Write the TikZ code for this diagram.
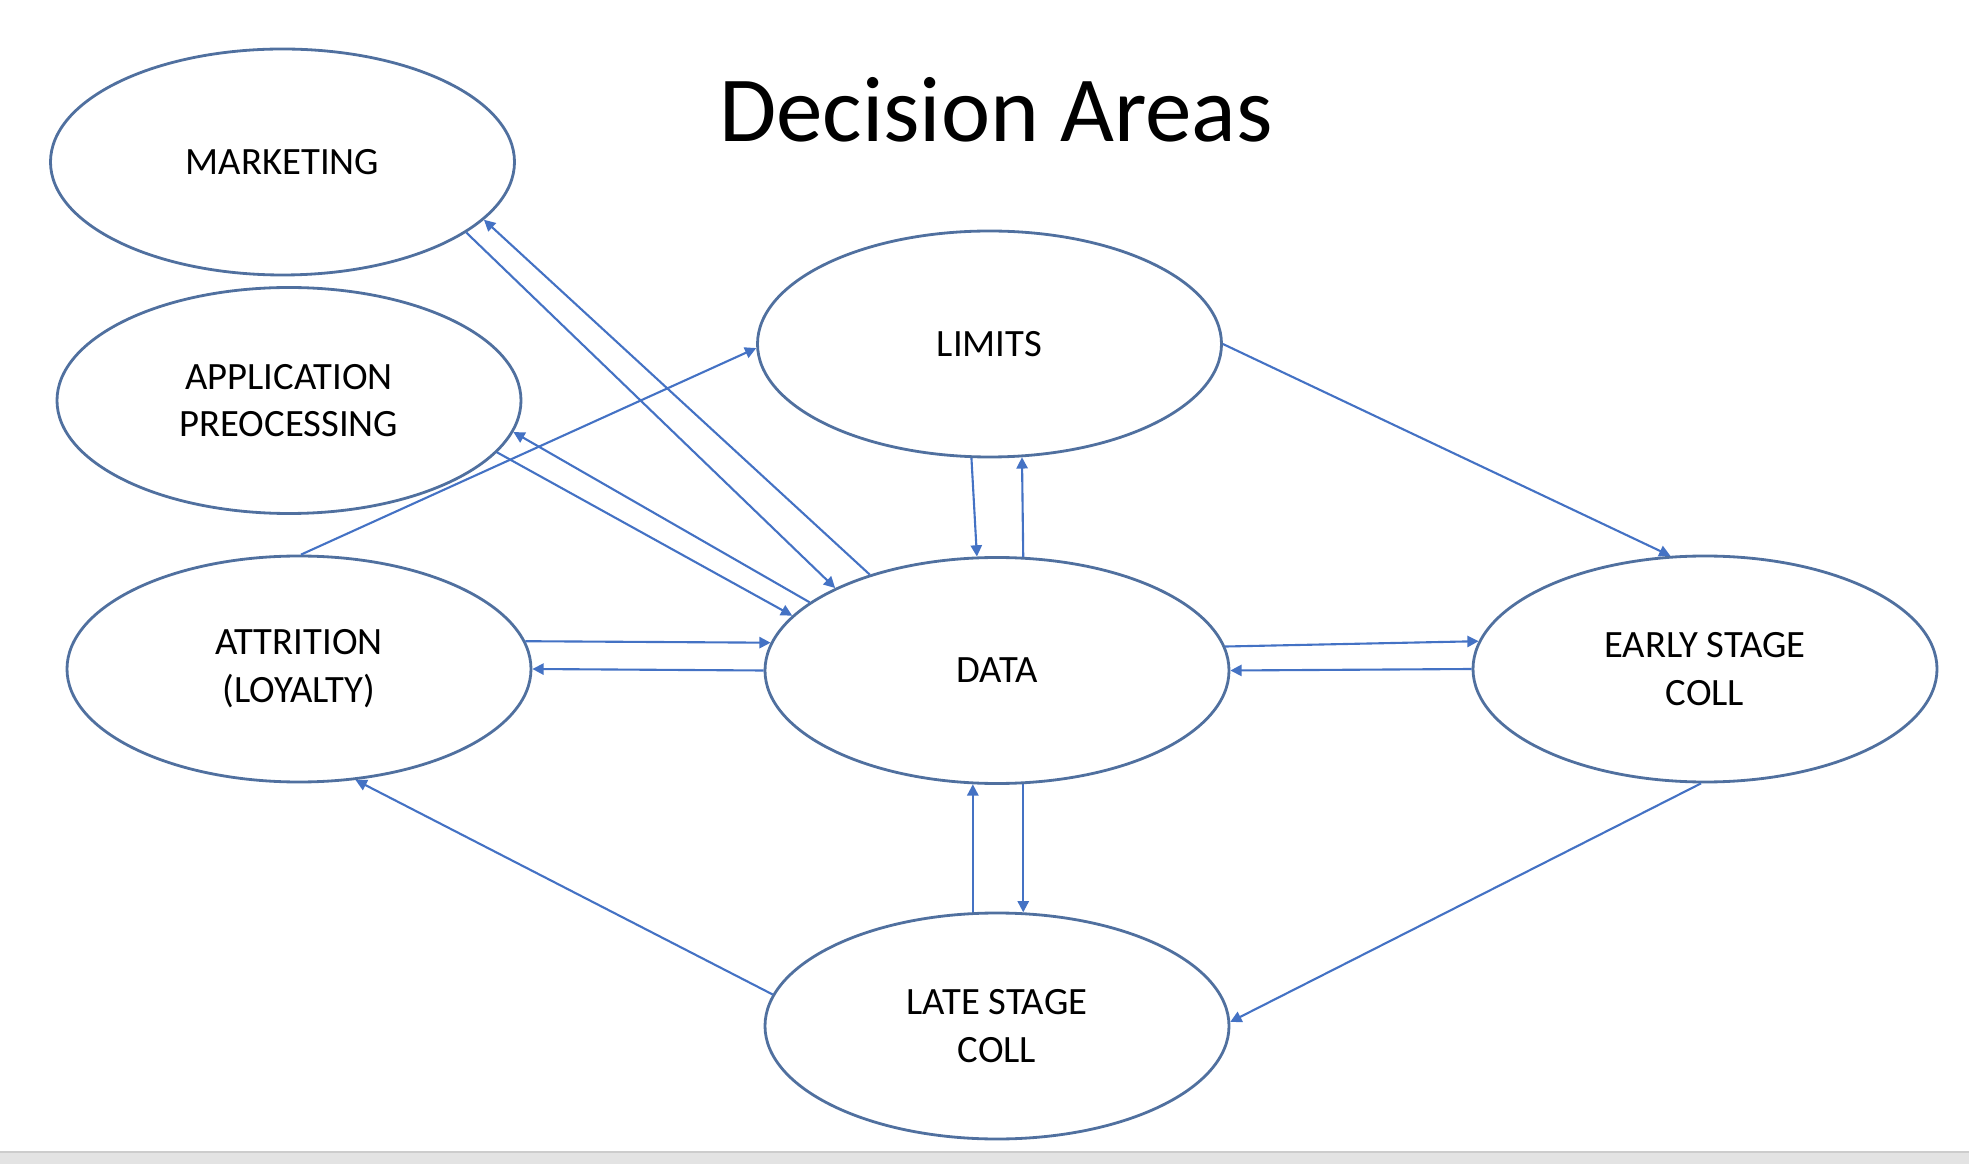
\documentclass[tikz,border=0pt]{standalone}
\usepackage{fontspec}
\setmainfont{Carlito}
\usetikzlibrary{shapes.geometric,arrows.meta}
\definecolor{ovalline}{HTML}{50709F}
\definecolor{arrowline}{HTML}{4472C4}
\begin{document}
\begin{tikzpicture} [area/.style={ellipse, draw=ovalline, line width=0.8pt, minimum width=4.64cm, minimum height=2.26cm, inner sep=0pt, align=center, font=\fontsize{11}{13.6}\selectfont}, link/.style={draw=arrowline, line width=0.6pt, -{Triangle[width=3.2pt,length=3.2pt]}}]
	\useasboundingbox (0,0) rectangle (19.69,-11.64);
	\fill [black!11] (0,-11.52) rectangle (19.69,-11.64);
	\draw [black!20, line width=0.6pt] (0,-11.52) -- (19.69,-11.52);

	\node [area] (marketing) at (2.825,-1.62) {MARKETING};
	\node [area] (application) at (2.89,-4.005) {APPLICATION\\PREOCESSING};
	\node [area] (attrition) at (2.99,-6.69) {ATTRITION\\(LOYALTY)};
	\node [area] (limits) at (9.895,-3.44) {LIMITS};
	\node [area] (data) at (9.97,-6.705) {DATA};
	\node [area] (early_coll) at (17.05,-6.69) {EARLY STAGE\\COLL};
	\node [area] (late_coll) at (9.97,-10.26) {LATE STAGE\\COLL};

	% draw edges
	\draw [link] (data.143) -- (marketing.344);
	\draw [link] (marketing.339) -- (data.153);
	\draw [link] (data.160) -- (application.352);
	\draw [link] (application.346) -- (data.165);
	\draw [link] (attrition.7) -- (data.173);
	\draw [link] (data.180) -- (attrition.0);
	\draw [link] (attrition.89) -- (limits.181);
	\draw [link] (limits.261) -- (data.100);
	\draw [link] (data.77) -- (limits.286);
	\draw [link] (limits.0) -- (early_coll.107);
	\draw [link] (data.6) -- (early_coll.173);
	\draw [link] (early_coll.180) -- (data.0);
	\draw [link] (early_coll.268) -- (late_coll.1);
	\draw [link] (late_coll.172) -- (attrition.297);
	\draw [link] (late_coll.102) -- (data.258);
	\draw [link] (data.283) -- (late_coll.77);

	% title
	\node [font=\fontsize{26.5}{30}\selectfont] (title) at (9.96,-1.10) {Decision Areas};
\end{tikzpicture}
\end{document}
